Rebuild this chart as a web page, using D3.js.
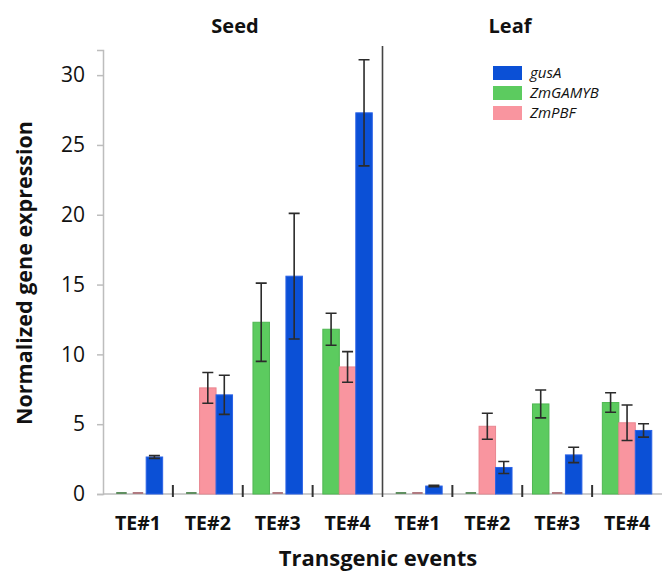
<!DOCTYPE html>
<html>
<head>
<meta charset="utf-8">
<script src="https://cdn.jsdelivr.net/npm/d3@7"></script>
<style>
  html, body { margin: 0; padding: 0; background: #fff; }
  svg { display: block; }
  text { font-family: "Open Sans", "DejaVu Sans", sans-serif; fill: #111; }
</style>
</head>
<body>
<svg id="chart" width="662" height="571"></svg>
<script>
// Categories and series
const tissues = ["Seed", "Leaf"];
const events = ["TE#1", "TE#2", "TE#3", "TE#4"];
const seriesOrder = ["ZmGAMYB", "ZmPBF", "gusA"];   // bar order inside a group
const legendOrder = ["gusA", "ZmGAMYB", "ZmPBF"];
const yTicks = [0, 5, 10, 15, 20, 25, 30];

// Mean expression values (per event) and their error (±)
const gamybSeed = [0, 0, 12.3, 11.8];
const gamybSeedErr = [0, 0, 2.8, 1.15];
const pbfSeed = [0, 7.6, 0, 9.1];
const pbfSeedErr = [0, 1.1, 0, 1.1];
const gusSeed = [2.65, 7.1, 15.6, 27.3];
const gusSeedErr = [0.1, 1.4, 4.5, 3.8];

const gamybLeaf = [0, 0, 6.45, 6.55];
const gamybLeafErr = [0, 0, 1.0, 0.7];
const pbfLeaf = [0, 4.85, 0, 5.1];
const pbfLeafErr = [0, 0.93, 0, 1.27];
const gusLeaf = [0.57, 1.9, 2.8, 4.55];
const gusLeafErr = [0.05, 0.43, 0.55, 0.48];

const colors = { gusA: "#0b50d6", ZmGAMYB: "#5ccb5f", ZmPBF: "#f9959f" };
const edges = { gusA: "#2a62e6", ZmGAMYB: "#4fb752", ZmPBF: "#e98690" };
const zeroMarks = { gusA: "#2a4fa0", ZmGAMYB: "#5f8f60", ZmPBF: "#b07a80" };

const valueTable = {
  Seed: { ZmGAMYB: [gamybSeed, gamybSeedErr], ZmPBF: [pbfSeed, pbfSeedErr], gusA: [gusSeed, gusSeedErr] },
  Leaf: { ZmGAMYB: [gamybLeaf, gamybLeafErr], ZmPBF: [pbfLeaf, pbfLeafErr], gusA: [gusLeaf, gusLeafErr] }
};

const rows = [];
tissues.forEach(t => events.forEach((e, i) => seriesOrder.forEach(s => {
  rows.push({ tissue: t, event: e, key: t + "|" + e, series: s,
              value: valueTable[t][s][0][i], err: valueTable[t][s][1][i] });
})));

const svg = d3.select("#chart");
const plotLeft = 103, plotRight = 662, plotBase = 494, plotTop = 50;

const groupKeys = [];
tissues.forEach(t => events.forEach(e => groupKeys.push(t + "|" + e)));

const x0 = d3.scaleBand().domain(groupKeys).range([plotLeft, plotRight]).padding(0);
const x1 = d3.scaleBand().domain(seriesOrder).range([0, x0.bandwidth()])
  .paddingInner(0).paddingOuter(0.62);
const y = d3.scaleLinear().domain([0, 31.8]).range([plotBase, plotTop]);

// y axis
const yAxis = svg.append("g").attr("transform", `translate(${plotLeft},0)`)
  .call(d3.axisLeft(y).tickValues(yTicks).tickSize(6).tickPadding(12));
yAxis.select(".domain").attr("stroke", "#bdbdbd").attr("stroke-width", 1.5);
yAxis.selectAll(".tick line").attr("stroke", "#bdbdbd").attr("stroke-width", 1.5);
yAxis.selectAll(".tick text").attr("font-size", 21).attr("fill", "#111")
  .style("font-family", "'Open Sans', sans-serif");

// baseline
svg.append("line").attr("x1", plotLeft).attr("x2", plotRight)
  .attr("y1", plotBase).attr("y2", plotBase)
  .attr("stroke", "#bdbdbd").attr("stroke-width", 1.5);

// bars (zero values show as a short dash on the baseline)
const bars = svg.append("g");
bars.selectAll("rect").data(rows).join("rect")
  .attr("x", d => x0(d.key) + x1(d.series) + (d.value > 0 ? 0 : 3))
  .attr("width", d => x1.bandwidth() - (d.value > 0 ? 0 : 6))
  .attr("y", d => d.value > 0 ? y(d.value) : plotBase - 2)
  .attr("height", d => d.value > 0 ? plotBase - y(d.value) : 2)
  .attr("fill", d => d.value > 0 ? colors[d.series] : zeroMarks[d.series])
  .attr("stroke", d => d.value > 0 ? edges[d.series] : "none")
  .attr("stroke-width", 1);

// error bars
const eb = svg.append("g").attr("stroke", "#2b2b2b").attr("stroke-width", 1.6).attr("fill", "none");
const withErr = rows.filter(d => d.err > 0);
const cx = d => x0(d.key) + x1(d.series) + x1.bandwidth() / 2;
const cap = 5.5;
eb.selectAll("path").data(withErr).join("path")
  .attr("d", d => {
    const c = cx(d), t = y(d.value + d.err), b = y(d.value - d.err);
    return `M${c},${t}V${b}M${c - cap},${t}H${c + cap}M${c - cap},${b}H${c + cap}`;
  });

// group separators (short ticks crossing the baseline)
const seps = svg.append("g").attr("stroke", "#333").attr("stroke-width", 2);
tissues.forEach(t => events.slice(1).forEach(e => {
  const xs = x0(t + "|" + e);
  seps.append("line").attr("x1", xs).attr("x2", xs).attr("y1", plotBase - 9).attr("y2", plotBase + 3);
}));

// panel divider between Seed and Leaf
const divX = x0("Leaf|TE#1");
svg.append("line").attr("x1", divX).attr("x2", divX).attr("y1", 46).attr("y2", plotBase + 3)
  .attr("stroke", "#444").attr("stroke-width", 1.6);

// event labels
svg.append("g").selectAll("text").data(groupKeys).join("text")
  .attr("x", k => x0(k) + x0.bandwidth() / 2)
  .attr("y", 530)
  .attr("text-anchor", "middle")
  .attr("font-size", 19.5).attr("font-weight", 700)
  .text(k => k.split("|")[1]);

// panel titles
svg.append("text").attr("x", 235).attr("y", 33).attr("text-anchor", "middle")
  .attr("font-size", 20).attr("font-weight", 700).text("Seed");
svg.append("text").attr("x", 510).attr("y", 33).attr("text-anchor", "middle")
  .attr("font-size", 20).attr("font-weight", 700).text("Leaf");

// axis titles
svg.append("text").attr("x", 378).attr("y", 566).attr("text-anchor", "middle")
  .attr("font-size", 22).attr("font-weight", 700).text("Transgenic events");
svg.append("text").attr("transform", "translate(32,273) rotate(-90)")
  .attr("text-anchor", "middle")
  .attr("font-size", 21.5).attr("font-weight", 700).text("Normalized gene expression");

// legend
const lg = svg.append("g").attr("transform", "translate(493,66)");
legendOrder.forEach((s, i) => {
  lg.append("rect").attr("x", 0).attr("y", i * 20).attr("width", 29).attr("height", 14)
    .attr("fill", colors[s]);
  lg.append("text").attr("x", 37).attr("y", i * 20 + 12)
    .attr("font-size", 15).attr("font-style", "italic").attr("fill", "#222").text(s);
});
</script>
</body>
</html>
